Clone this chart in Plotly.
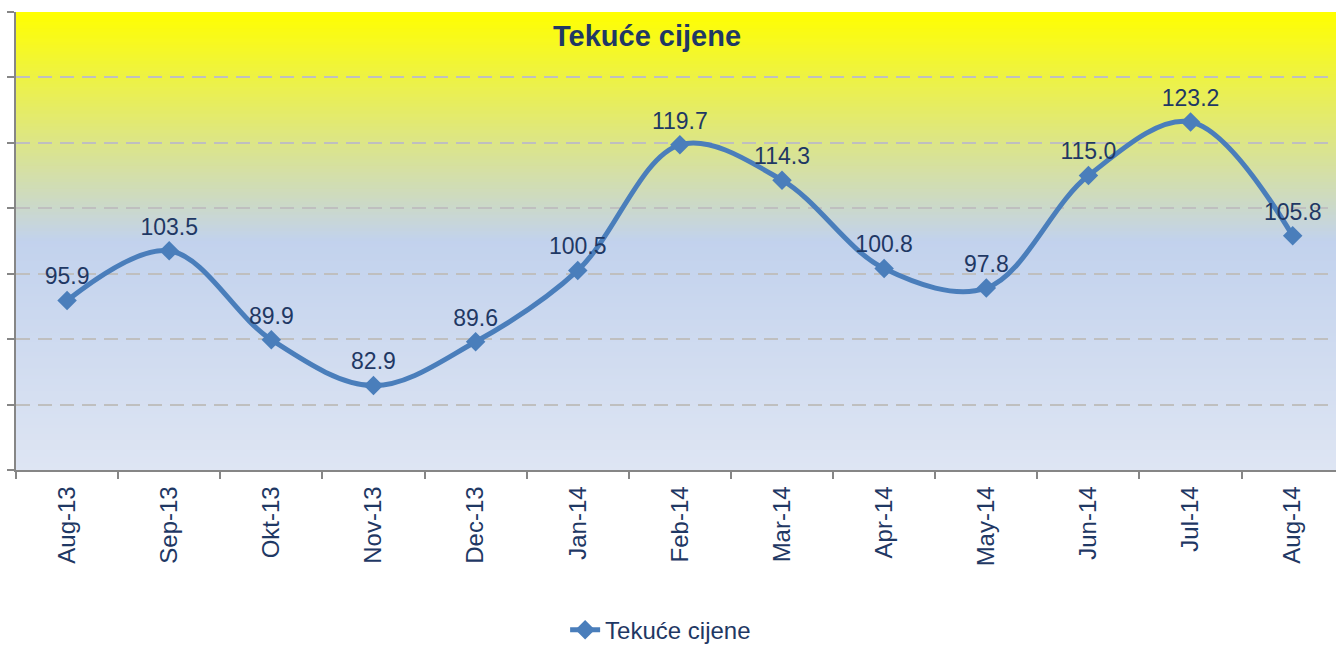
import plotly.graph_objects as go

months = ["Aug-13", "Sep-13", "Okt-13", "Nov-13", "Dec-13", "Jan-14", "Feb-14",
          "Mar-14", "Apr-14", "May-14", "Jun-14", "Jul-14", "Aug-14"]
values = [95.9, 103.5, 89.9, 82.9, 89.6, 100.5, 119.7, 114.3, 100.8, 97.8, 115.0, 123.2, 105.8]
series_name = "Tekuće cijene"
chart_title = "Tekuće cijene"

Y_MIN, Y_MAX = 70, 140
NAVY = "#1F3864"
LINE = "#4A7EBB"
FONT = "Liberation Sans, Arial, sans-serif"

# vertical background gradient (top yellow -> middle blue -> bottom light blue)
stops = [(0.0, (255, 255, 0)), (0.5, (194, 210, 237)), (1.0, (222, 229, 243))]


def grad_color(t):
    for (t0, c0), (t1, c1) in zip(stops[:-1], stops[1:]):
        if t0 <= t <= t1:
            f = (t - t0) / (t1 - t0)
            return "rgb(%d,%d,%d)" % tuple(round(a + (b - a) * f) for a, b in zip(c0, c1))
    return "rgb(%d,%d,%d)" % stops[-1][1]


n_strips = 140
shapes = []
step = (Y_MAX - Y_MIN) / n_strips
for i in range(n_strips):
    y_top = Y_MAX - i * step
    y_bot = max(Y_MIN, y_top - step * 1.6)
    t = (i + 0.5) / n_strips
    shapes.append(dict(type="rect", xref="paper", yref="y", x0=0, x1=1,
                       y0=y_bot, y1=y_top, fillcolor=grad_color(t),
                       line=dict(width=0), layer="below"))

fig = go.Figure()
fig.add_trace(go.Scatter(
    x=months, y=values, name=series_name,
    mode="lines+markers+text",
    line=dict(color=LINE, width=5, shape="spline", smoothing=1),
    marker=dict(symbol="diamond", size=15, color=LINE),
    text=[f"{v:.1f}" for v in values],
    textposition="top center",
    textfont=dict(family=FONT, size=23, color=NAVY),
    cliponaxis=False,
))

fig.add_annotation(text="<b>%s</b>" % chart_title, xref="paper", yref="paper",
                   x=0.478, y=0.9476, xanchor="center", yanchor="middle",
                   showarrow=False, font=dict(family=FONT, size=29, color=NAVY))

fig.update_layout(
    width=1336, height=645,
    margin=dict(l=16, r=0, t=12, b=175),
    paper_bgcolor="white", plot_bgcolor="white",
    shapes=shapes,
    font=dict(family=FONT, color=NAVY),
    showlegend=True,
    legend=dict(orientation="h", xref="paper", x=0.416, xanchor="left",
                yref="container", y=0.023, yanchor="middle",
                font=dict(family=FONT, size=24, color=NAVY),
                bgcolor="rgba(0,0,0,0)"),
    xaxis=dict(type="category", range=[-0.5, 12.424], showgrid=False, automargin=False,
               showline=True, linecolor="#868686", linewidth=1.5,
               ticks="outside", tickson="boundaries", ticklen=7, tickcolor="#868686",
               tickwidth=1.5, tickangle=-90, ticklabelstandoff=5,
               tickfont=dict(family=FONT, size=24, color=NAVY)),
    yaxis=dict(range=[Y_MIN, Y_MAX], dtick=10, showgrid=True, gridcolor="#BFBFBF",
               griddash="14px,8px", gridwidth=2, zeroline=False, automargin=False,
               showline=True, linecolor="#868686", linewidth=1.5,
               ticks="outside", ticklen=7, tickcolor="#868686", tickwidth=1.5,
               showticklabels=False),
)

fig.write_html("out.html", config={"displayModeBar": False},
               post_script="document.body.style.margin='0';document.body.style.overflow='hidden';")
